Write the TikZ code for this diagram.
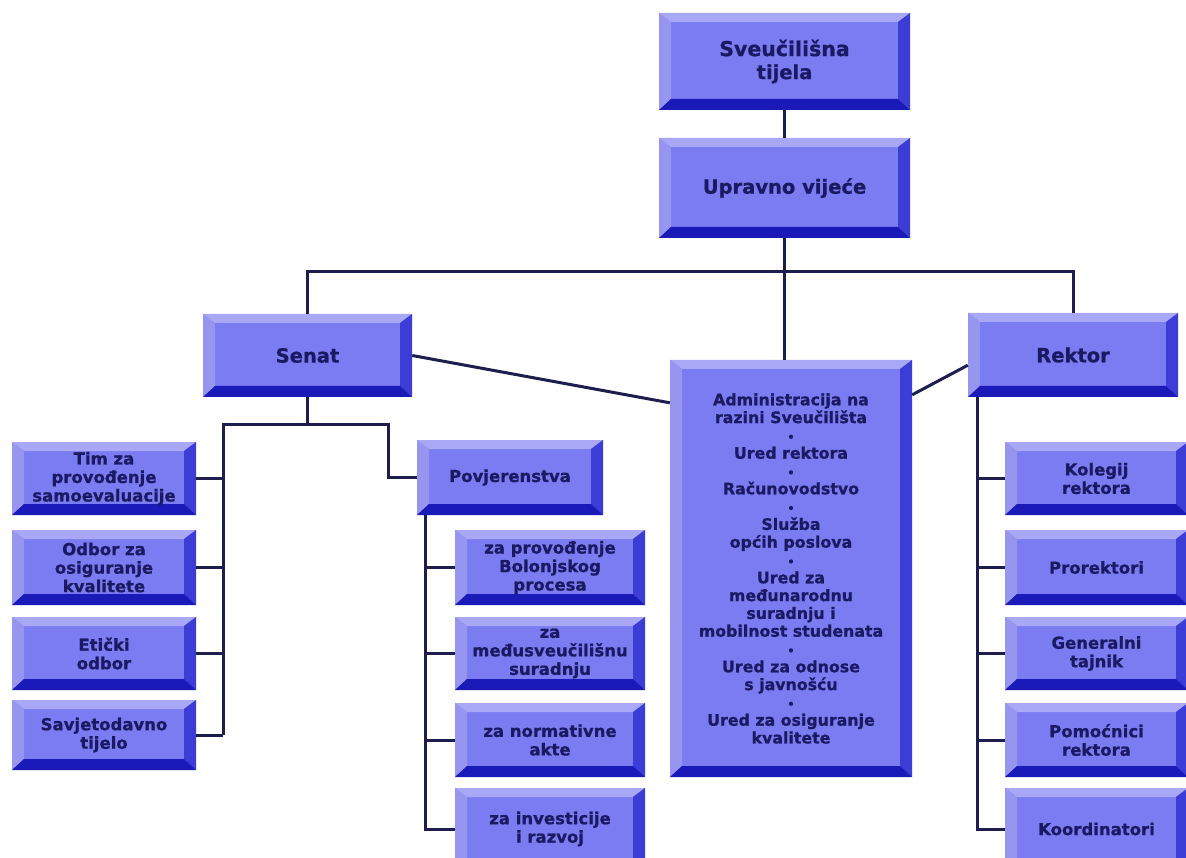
\documentclass[tikz,border=0pt]{standalone}
\usepackage{fontspec}
\newfontfamily\dvs[FakeBold=0.8]{DejaVu Sans Bold}
\usetikzlibrary{calc}
\definecolor{face}{HTML}{7B7BF2}
\definecolor{bvtop}{HTML}{A8A8F6}
\definecolor{bvleft}{HTML}{9696F0}
\definecolor{bvright}{HTML}{3C3CD6}
\definecolor{bvbot}{HTML}{1A1AB8}
\definecolor{txt}{HTML}{1A1A62}
\definecolor{linec}{HTML}{1E1E4E}
\newcommand\admbul{{\fontsize{11}{17.8}\selectfont •}}
\tikzset{
  bev/.style={rectangle, fill=face, inner sep=0pt, align=center, text=txt,
    path picture={
      \path (path picture bounding box.north west) coordinate (bnw)
            (path picture bounding box.north east) coordinate (bne)
            (path picture bounding box.south west) coordinate (bsw)
            (path picture bounding box.south east) coordinate (bse);
      \fill[bvtop] (bnw) -- (bne) -- ([xshift=-12pt,yshift=-9pt]bne) -- ([xshift=12pt,yshift=-9pt]bnw) -- cycle;
      \fill[bvleft] (bnw) -- ([xshift=12pt,yshift=-9pt]bnw) -- ([xshift=12pt,yshift=11pt]bsw) -- (bsw) -- cycle;
      \fill[bvright] (bne) -- (bse) -- ([xshift=-12pt,yshift=11pt]bse) -- ([xshift=-12pt,yshift=-9pt]bne) -- cycle;
      \fill[bvbot] (bsw) -- (bse) -- ([xshift=-12pt,yshift=11pt]bse) -- ([xshift=12pt,yshift=11pt]bsw) -- cycle;
    }},
  big/.style={font=\dvs\fontsize{19.5}{23}\selectfont},
  small/.style={font=\dvs\fontsize{16.5}{18.5}\selectfont},
  admf/.style={font=\dvs\fontsize{15.8}{17.8}\selectfont},
  lbox/.style={bev,small,minimum width=184pt},
  pbox/.style={bev,small,minimum width=190pt},
  rbox/.style={bev,small,minimum width=183pt},
  conn/.style={draw=linec, line width=3pt},
}
\begin{document}
\begin{tikzpicture}[x=1pt,y=-1pt]
\useasboundingbox (0,0) rectangle (1186,858);
\clip (0,0) rectangle (1186,858);
\fill[white] (0,0) rectangle (1186,858);

\node[bev,big,minimum width=251pt,minimum height=97pt] (sv) at (784.5,61.5) {{\fontsize{20.5}{23}\selectfont Sveučilišna}\\tijela};
\node[bev,big,minimum width=251pt,minimum height=100pt] (uv) at (784.5,188) {Upravno vijeće};
\node[bev,big,minimum width=209pt,minimum height=83pt] (sen) at (307.5,355.5) {Senat};
\node[bev,big,minimum width=210pt,minimum height=84pt] (rek) at (1073,355) {Rektor};
\node[bev,admf,minimum width=242pt,minimum height=417pt] (adm) at (791,568.5)
 {Administracija na\\razini Sveučilišta\\\admbul\\Ured rektora\\\admbul\\Računovodstvo\\\admbul\\Služba\\općih poslova\\\admbul\\Ured za\\međunarodnu\\suradnju i\\mobilnost studenata\\\admbul\\Ured za odnose\\s javnošću\\\admbul\\Ured za osiguranje\\kvalitete};

\node[lbox,minimum height=73pt] (tim) at (104,478.5) {Tim za\\provođenje\\samoevaluacije};
\node[lbox,minimum height=75pt] (odb) at (104,567.5) {Odbor za\\osiguranje\\kvalitete};
\node[lbox,minimum height=73pt] (eti) at (104,653.5) {Etički\\odbor};
\node[lbox,minimum height=70pt] (sav) at (104,735) {Savjetodavno\\tijelo};

\node[bev,small,minimum width=186pt,minimum height=75pt] (pov) at (510,477.5) {Povjerenstva};
\node[pbox,minimum height=75pt] (bol) at (550,567.5) {za provođenje\\Bolonjskog\\procesa};
\node[pbox,minimum height=73pt] (med) at (550,653.5) {za\\međusveučilišnu\\suradnju};
\node[pbox,minimum height=74pt] (nor) at (550,740) {za normativne\\akte};
\node[pbox,minimum height=82pt] (inv) at (550,829) {za investicije\\i razvoj};

\node[rbox,minimum height=73pt] (kol) at (1096.5,478.5) {Kolegij\\rektora};
\node[rbox,minimum height=75pt] (pro) at (1096.5,567.5) {Prorektori};
\node[rbox,minimum height=73pt] (gen) at (1096.5,653.5) {Generalni\\tajnik};
\node[rbox,minimum height=74pt] (pom) at (1096.5,740) {Pomoćnici\\rektora};
\node[rbox,minimum height=82pt] (koo) at (1096.5,829) {Koordinatori};

% connectors
\coordinate (hb) at (0,272);
\coordinate (sb) at (0,424);
\coordinate (lt) at (223,0);
\coordinate (pt) at (388,0);
\coordinate (pvt) at (425,0);
\coordinate (rkt) at (977,0);

\draw[conn] (sv.south) -- (uv.north);
\draw[conn] (uv.south) -- (uv.south |- adm.north);
\draw[conn] (sen.north) -- (sen.north |- hb) -- (rek.north |- hb) -- (rek.north);
\draw[conn] (sen.east) -- ($(adm.north west)+(0,43)$);
\draw[conn] ($(rek.south west)+(0,-32)$) -- ($(adm.north east)+(0,35)$);
\draw[conn] (sen.south) -- (sen.south |- sb);
\draw[conn] (lt |- sav.east) -- (lt |- sb) -- (pt |- sb) -- (pt |- pov.west) -- (pov.west);
\foreach \n in {tim,odb,eti,sav} \draw[conn] (\n.east) -- (\n.east -| lt);
\draw[conn] (pvt |- pov.south) -- (pvt |- inv.west) -- (inv.west);
\foreach \n in {bol,med,nor} \draw[conn] (\n.west) -- (\n.west -| pvt);
\draw[conn] (rkt |- rek.south) -- (rkt |- koo.west) -- (koo.west);
\foreach \n in {kol,pro,gen,pom} \draw[conn] (\n.west) -- (\n.west -| rkt);
\end{tikzpicture}
\end{document}
